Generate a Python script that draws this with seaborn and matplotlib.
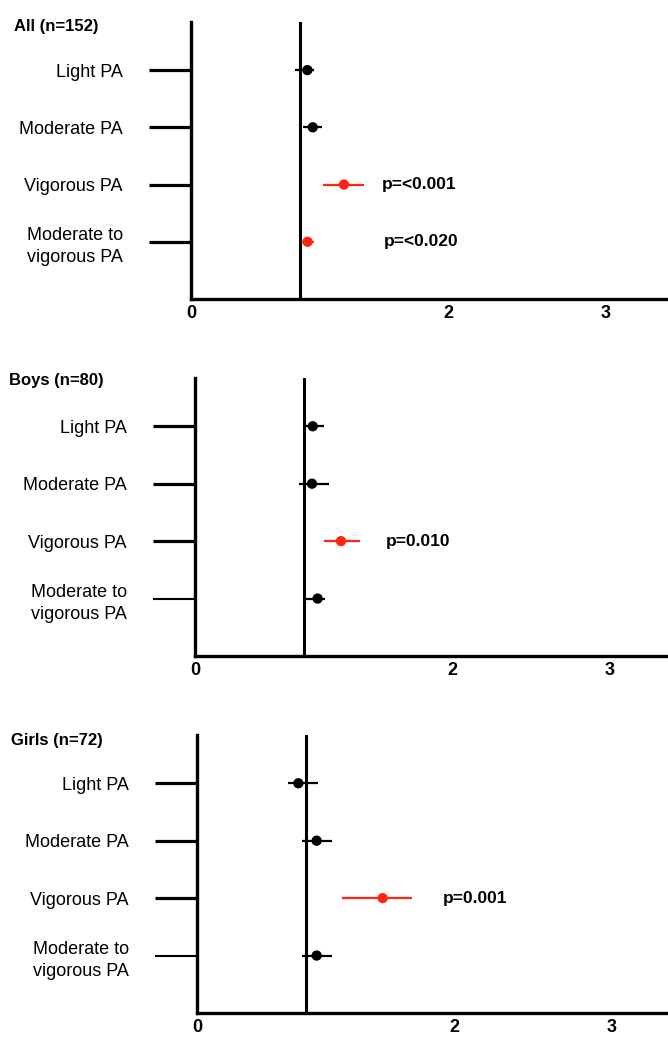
import numpy as np
import pandas as pd
import matplotlib
matplotlib.use("Agg")
import matplotlib.pyplot as plt
import seaborn as sns

sns.set_style("white")
plt.rcParams["font.family"] = ["Liberation Sans", "DejaVu Sans"]
plt.rcParams["text.color"] = "black"
plt.rcParams["xtick.color"] = "black"
plt.rcParams["ytick.color"] = "black"

# data
activities = ["Light PA", "Moderate PA", "Vigorous PA", "Moderate to\nvigorous PA"]
groups = ["All (n=152)", "Boys (n=80)", "Girls (n=72)"]
x_ticks = [0, 2, 3]
x_labels = ["0", "2", "3"]

all_est = [1.05, 1.086, 1.297, 1.051]
all_lo = [0.957, 1.02, 1.155, 1.011]
all_hi = [1.095, 1.152, 1.43, 1.095]
all_sig = [False, False, True, True]

boys_est = [1.059, 1.054, 1.25, 1.092]
boys_lo = [1.0, 0.95, 1.137, 1.0]
boys_hi = [1.133, 1.172, 1.378, 1.142]
boys_sig = [False, False, True, False]

girls_est = [0.93, 1.072, 1.518, 1.072]
girls_lo = [0.832, 0.96, 1.245, 0.96]
girls_hi = [1.083, 1.174, 1.714, 1.174]
girls_sig = [False, False, True, False]

# p value labels: (row, text)
all_p = [(2, "p=<0.001"), (3, "p=<0.020")]
boys_p = [(2, "p=0.010")]
girls_p = [(2, "p=0.001")]

panels = [
    (groups[0], all_est, all_lo, all_hi, all_sig, all_p),
    (groups[1], boys_est, boys_lo, boys_hi, boys_sig, boys_p),
    (groups[2], girls_est, girls_lo, girls_hi, girls_sig, girls_p),
]

# layout in pixels (figure is 668 x 1039)
W, H = 668, 1039
lefts = [191, 195, 197]
tops = [22, 378, 735]
bottoms = [299, 656, 1013]
p_xpos = [[1.552, 1.568], [1.554], [1.926]]
title_pos = [(14, 26), (9, 380), (11, 740)]

# the original axis is not linear: 0, 1, 2, 3 sit at these offsets (px) from the y axis
knots = [-1, 0, 1, 2, 3, 4]
knot_px = [-109, 0, 109, 257, 415, 573]


def fwd(x):
    return np.interp(x, knots, knot_px)


def inv(p):
    return np.interp(p, knot_px, knots)


red = "#ff2413"
pal = {False: "black", True: red}

fig = plt.figure(figsize=(W / 100, H / 100), dpi=100)

for i, (title, est, lo, hi, sig, plabs) in enumerate(panels):
    l, t, b = lefts[i], tops[i], bottoms[i]
    ax = fig.add_axes([l / W, 1 - b / H, 1 - l / W, (b - t) / H])
    df = pd.DataFrame({"row": range(len(activities)), "est": est,
                       "lo": lo, "hi": hi, "sig": sig})
    ax.set_xscale("function", functions=(fwd, inv))

    ax.axvline(1, color="black", lw=2.2, zorder=1)
    for _, r in df.iterrows():
        ax.hlines(r["row"], r["lo"], r["hi"], color=pal[r["sig"]], lw=1.6, zorder=2)
    sns.scatterplot(data=df, x="est", y="row", hue="sig", palette=pal,
                    s=55, edgecolor="none", legend=False, ax=ax, zorder=3)

    for (row, txt), xp in zip(plabs, p_xpos[i]):
        ax.text(xp, row, txt, fontsize=12.5, fontweight="bold", va="center", ha="left")

    ax.set_xlim(0, inv(W - l))
    ax.set_ylim(4.0, -0.84)
    ax.set_xticks(x_ticks)
    ax.set_xticklabels(x_labels, fontsize=13, fontweight="bold")
    ax.set_yticks(range(len(activities)))
    ax.set_yticklabels(activities, fontsize=13, multialignment="center", linespacing=1.4)
    ax.tick_params(axis="x", bottom=False, length=0, pad=4)
    ax.tick_params(axis="y", left=True, length=30, width=2.3, pad=19, color="black")
    if i > 0:
        ax.yaxis.get_major_ticks()[3].tick1line.set_markeredgewidth(1.5)
    ax.set_xlabel("")
    ax.set_ylabel("")
    sns.despine(ax=ax)
    for s in ["left", "bottom"]:
        ax.spines[s].set_linewidth(2.4)
        ax.spines[s].set_color("black")

    fig.text(title_pos[i][0] / W, 1 - title_pos[i][1] / H, title,
             fontsize=12, fontweight="bold", va="center", ha="left")

fig.savefig("out.png", dpi=100)
